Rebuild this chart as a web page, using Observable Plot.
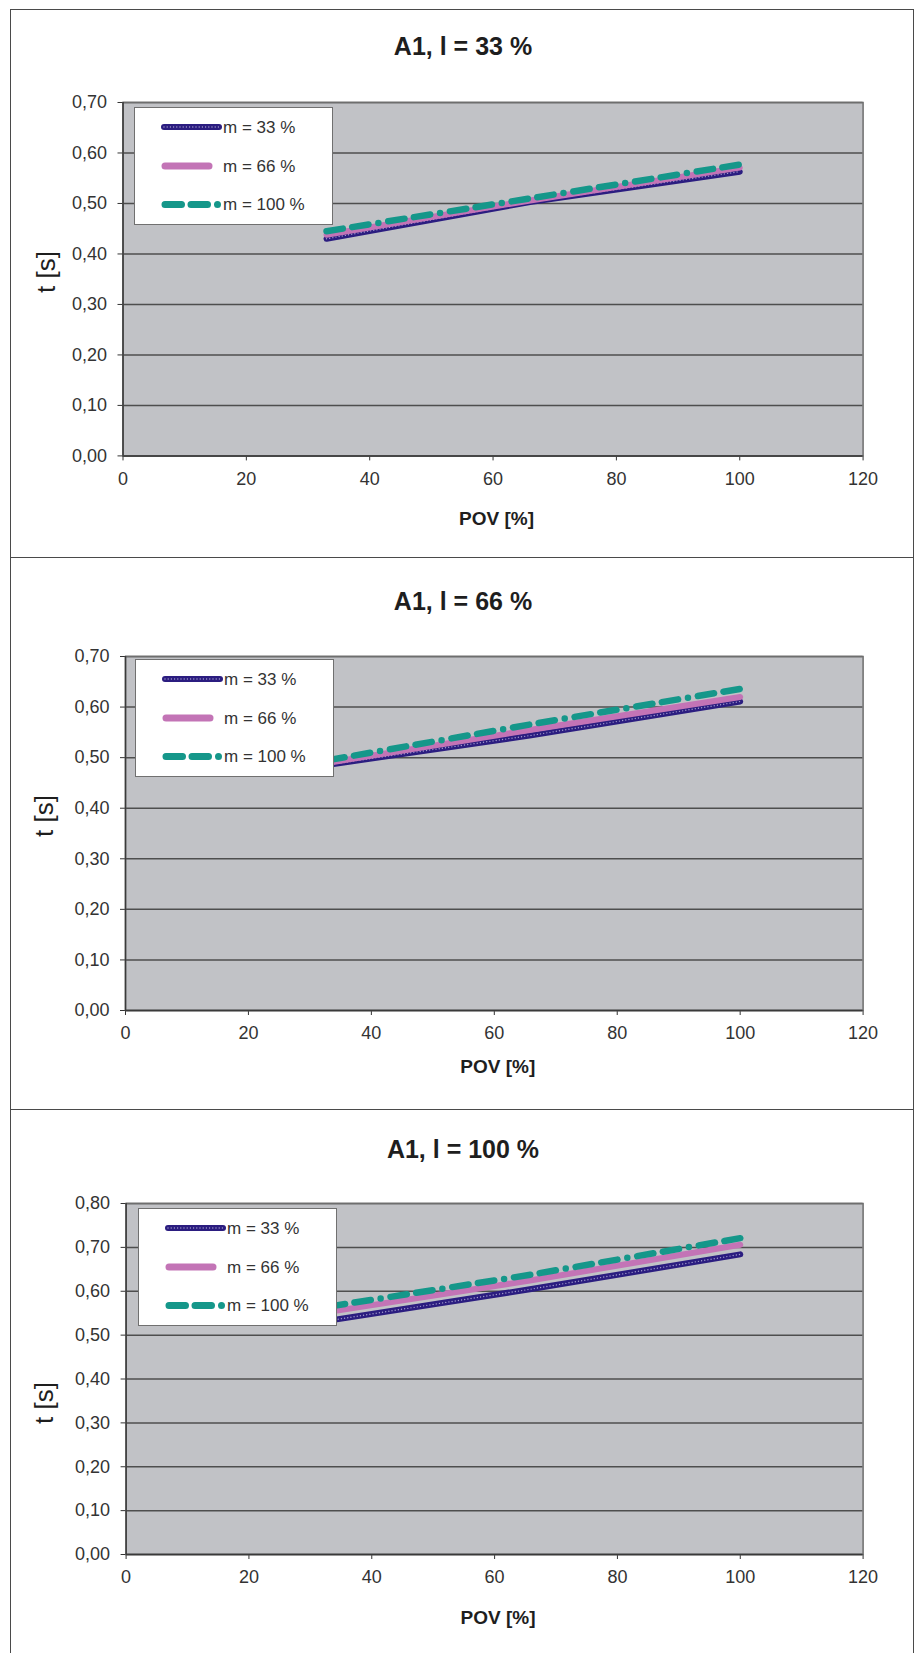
<!DOCTYPE html>
<html>
<head>
<meta charset="utf-8">
<script src="https://cdn.jsdelivr.net/npm/d3@7"></script>
<script src="https://cdn.jsdelivr.net/npm/@observablehq/plot@0.6"></script>
<style>
  html, body { margin: 0; padding: 0; background: #fff; }
  body { width: 916px; height: 1653px; position: relative; overflow: hidden;
         font-family: Arial, "Liberation Sans", sans-serif; color: #333; }
  .abs { position: absolute; }
  .title { font-weight: bold; font-size: 25px; color: #1e1e1e; transform: translate(-50%, -50%); white-space: nowrap; }
  .xlabel { font-weight: bold; font-size: 19px; color: #1e1e1e; transform: translate(-50%, -50%); white-space: nowrap; }
  .ylabel { font-size: 26px; color: #1e1e1e; transform: translate(-50%, -50%) rotate(-90deg); white-space: nowrap; }
  .legend { background: #fff; border: 1px solid #707070; box-sizing: border-box; }
</style>
</head>
<body>
<script>
// ---------- data ----------
const pov = [33, 66, 100];
const xTicks = [0, 20, 40, 60, 80, 100, 120];
const yTicks70 = [0, 0.1, 0.2, 0.3, 0.4, 0.5, 0.6, 0.7];
const yTicks80 = [0, 0.1, 0.2, 0.3, 0.4, 0.5, 0.6, 0.7, 0.8];
const seriesLabels = ["m = 33 %", "m = 66 %", "m = 100 %"];
const titles = ["A1, l = 33 %", "A1, l = 66 %", "A1, l = 100 %"];
const xTitle = "POV [%]";
const yTitle = "t [s]";

const l33_m33 = [0.430, 0.503, 0.563];
const l33_m66 = [0.438, 0.506, 0.571];
const l33_m100 = [0.445, 0.510, 0.577];

const l66_m33 = [0.486, 0.544, 0.611];
const l66_m66 = [0.490, 0.555, 0.620];
const l66_m100 = [0.495, 0.566, 0.636];

const l100_m33 = [0.533, 0.605, 0.684];
const l100_m66 = [0.553, 0.625, 0.706];
const l100_m100 = [0.565, 0.638, 0.721];

// ---------- styles ----------
const PURPLE = "#2b1d80", PINK = "#c374b6", TEAL = "#15978a";
const TEAL_DASH = "16.5,9.5,16.5,10,0,10";
const FONT = 'Arial, "Liberation Sans", sans-serif';
const fmt = d => d.toFixed(2).replace(".", ",");

const panels = [
  {title: titles[0], titleY: 46, plotTop: 102.3, plotBottom: 455.7, plotLeft: 122.5, yTicks: yTicks70,
   series: [l33_m33, l33_m66, l33_m100], yLabelX: 46, yLabelY: 272, xLabelY: 519, legend: [134, 107]},
  {title: titles[1], titleY: 601, plotTop: 655.5, plotBottom: 1009.5, plotLeft: 125, yTicks: yTicks70,
   series: [l66_m33, l66_m66, l66_m100], yLabelX: 44, yLabelY: 816, xLabelY: 1067, legend: [135, 659]},
  {title: titles[2], titleY: 1148.7, plotTop: 1203.3, plotBottom: 1554.3, plotLeft: 125.6, yTicks: yTicks80,
   series: [l100_m33, l100_m66, l100_m100], yLabelX: 44, yLabelY: 1403, xLabelY: 1618, legend: [138, 1207.6]}
];

const plotRight = 862.6;
const W = 916;

function addBox(left, top, width, height, css) {
  const d = document.createElement("div");
  d.className = "abs";
  Object.assign(d.style, {left: left + "px", top: top + "px", width: width + "px", height: height + "px"}, css);
  document.body.appendChild(d);
  return d;
}
addBox(9.5, 8.5, 904, 1660, {border: "1.5px solid #4a4a4a", boxSizing: "border-box"});
addBox(9.5, 556.5, 904, 0, {borderTop: "1.5px solid #4a4a4a"});
addBox(9.5, 1108.5, 904, 0, {borderTop: "1.5px solid #4a4a4a"});

function addText(cls, text, x, y) {
  const d = document.createElement("div");
  d.className = "abs " + cls;
  d.textContent = text;
  d.style.left = x + "px";
  d.style.top = y + "px";
  document.body.appendChild(d);
}

panels.forEach(p => {
  const mt = 20, mb = 45;
  const data = [];
  p.series.forEach((vals, si) => vals.forEach((v, i) => data.push({x: pov[i], y: v, s: seriesLabels[si]})));
  const ser = s => data.filter(d => d.s === s);
  const yMax = p.yTicks[p.yTicks.length - 1];

  const chart = Plot.plot({
    width: W,
    height: (p.plotBottom - p.plotTop) + mt + mb,
    marginTop: mt, marginBottom: mb,
    marginLeft: p.plotLeft, marginRight: W - plotRight,
    style: {fontFamily: FONT, fontSize: "18px", color: "#333", background: "transparent", overflow: "visible"},
    x: {domain: [0, 120], ticks: xTicks, tickSize: 5, tickPadding: 11, label: null, tickFormat: d => String(d)},
    y: {domain: [0, yMax], ticks: p.yTicks, tickSize: 5, tickPadding: 11, label: null, tickFormat: fmt},
    marks: [
      Plot.frame({fill: "#c1c2c6", stroke: "none"}),
      Plot.ruleY(p.yTicks, {stroke: "#4e4e4e", strokeWidth: 1.5}),
      Plot.frame({stroke: "#6e6e6e", strokeWidth: 1.5}),
      Plot.ruleX([0], {stroke: "#3a3a3a", strokeWidth: 1.5}),
      Plot.ruleY([0], {stroke: "#3a3a3a", strokeWidth: 1.5}),
      Plot.line(ser(seriesLabels[0]), {x: "x", y: "y", stroke: PURPLE, strokeWidth: 6, strokeLinecap: "round"}),
      Plot.line(ser(seriesLabels[0]), {x: "x", y: "y", stroke: "#d8d4ee", strokeWidth: 1.4, strokeDasharray: "0,3.2", strokeLinecap: "round", strokeOpacity: 0.7}),
      Plot.line(ser(seriesLabels[1]), {x: "x", y: "y", stroke: PINK, strokeWidth: 6, strokeLinecap: "round"}),
      Plot.line(ser(seriesLabels[2]), {x: "x", y: "y", stroke: TEAL, strokeWidth: 6.5, strokeLinecap: "round", strokeDasharray: TEAL_DASH})
    ]
  });
  const holder = document.createElement("div");
  holder.className = "abs";
  holder.style.left = "0px";
  holder.style.top = (p.plotTop - mt) + "px";
  holder.appendChild(chart);
  document.body.appendChild(holder);

  addText("title", p.title, 463, p.titleY);
  addText("xlabel", xTitle, (p.plotLeft + plotRight) / 2 + 4, p.xLabelY);
  addText("ylabel", yTitle, p.yLabelX, p.yLabelY);

  // legend
  const lg = addBox(p.legend[0], p.legend[1], 199, 118, {});
  lg.classList.add("legend");
  const svg = d3.select(lg).append("svg").attr("width", 197).attr("height", 116)
    .style("position", "absolute").style("left", "0px").style("top", "0px");
  const rowsY = [19, 58, 96.5];
  svg.append("line").attr("x1", 29).attr("x2", 84).attr("y1", rowsY[0]).attr("y2", rowsY[0])
    .attr("stroke", PURPLE).attr("stroke-width", 6).attr("stroke-linecap", "round");
  svg.append("line").attr("x1", 29).attr("x2", 84).attr("y1", rowsY[0]).attr("y2", rowsY[0])
    .attr("stroke", "#d8d4ee").attr("stroke-width", 1.4).attr("stroke-dasharray", "0,3.2")
    .attr("stroke-linecap", "round").attr("stroke-opacity", 0.7);
  svg.append("line").attr("x1", 30).attr("x2", 74).attr("y1", rowsY[1]).attr("y2", rowsY[1])
    .attr("stroke", PINK).attr("stroke-width", 7).attr("stroke-linecap", "round");
  svg.append("line").attr("x1", 30).attr("x2", 84).attr("y1", rowsY[2]).attr("y2", rowsY[2])
    .attr("stroke", TEAL).attr("stroke-width", 7).attr("stroke-linecap", "round")
    .attr("stroke-dasharray", TEAL_DASH);
  seriesLabels.forEach((s, i) => {
    svg.append("text").attr("x", 88).attr("y", rowsY[i]).attr("dy", "0.35em")
      .attr("font-family", FONT).attr("font-size", 17).attr("fill", "#333").text(s);
  });
});
</script>
</body>
</html>
